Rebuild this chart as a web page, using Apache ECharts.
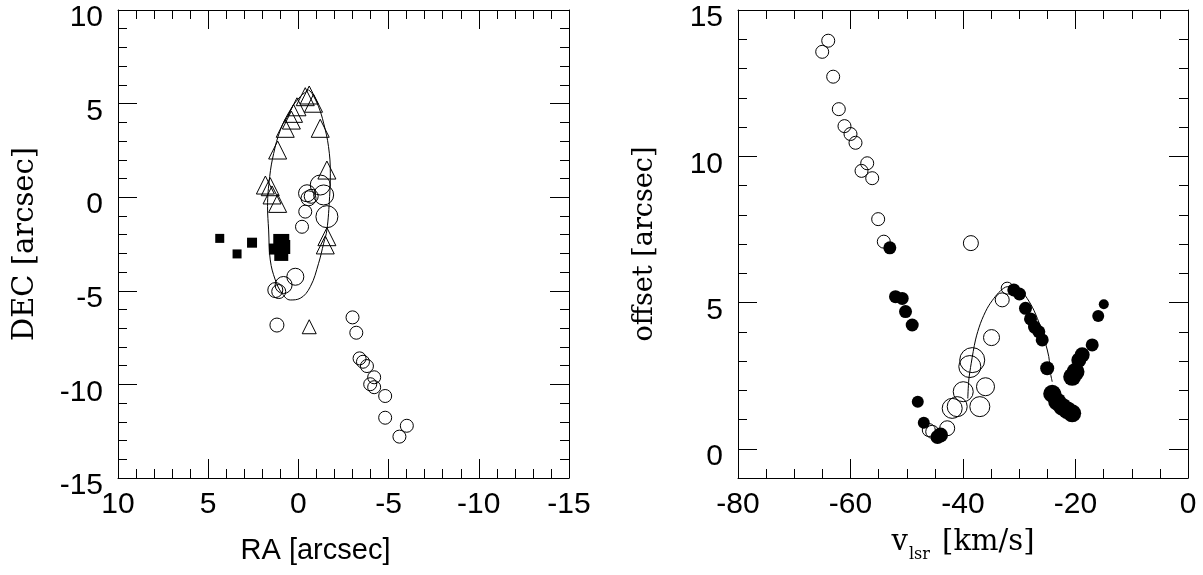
<!DOCTYPE html>
<html><head><meta charset="utf-8">
<script src="https://cdn.jsdelivr.net/npm/echarts@6/dist/echarts.min.js"></script>
<style>html,body{margin:0;padding:0;background:#fff}#c{width:1203px;height:575px}</style>
</head><body><div id="c"></div>
<script>
// ---------- tick values ----------
const raMajor = [10, 5, 0, -5, -10, -15];
const raMinor = [9,8,7,6,4,3,2,1,-1,-2,-3,-4,-6,-7,-8,-9,-11,-12,-13,-14];
const decMajor = [10, 5, 0, -5, -10, -15];
const decMinor = [9,8,7,6,4,3,2,1,-1,-2,-3,-4,-6,-7,-8,-9,-11,-12,-13,-14];
const vMajor = [-80, -60, -40, -20, 0];
const vMinor = [-75,-70,-65,-55,-50,-45,-35,-30,-25,-15,-10,-5];
const offMajor = [0, 5, 10, 15];
const offMinor = [-1,1,2,3,4,6,7,8,9,11,12,13,14];

// ---------- left panel data: [RA, DEC, relative flux] ----------
const leftEllipse = [[-0.57,5.73],[-0.10,5.37],[0.45,4.66],[1.00,3.59],[1.37,2.34],[1.59,1.10],[1.71,-0.51],[1.65,-1.75],[1.56,-3.35],[1.28,-4.42],[0.91,-5.13],[0.45,-5.49],[-0.10,-5.40],[-0.66,-4.78],[-1.12,-3.53],[-1.40,-2.46],[-1.58,-1.75],[-1.73,0.03],[-1.77,1.28],[-1.67,2.70],[-1.40,3.95],[-1.12,4.83],[-0.75,5.55],[-0.57,5.73]];
const leftTriangles = [[-0.38,5.37,6],[-0.60,5.46,6],[-0.84,5.02,6],[0.08,4.83,6],[0.27,4.48,6],[0.39,4.12,6],[0.73,3.68,6],[-1.21,3.68,6],[1.15,2.52,6],[-1.58,1.45,6],[1.83,0.65,6],[1.56,0.56,6],[1.46,0.12,6],[1.15,-0.33,6],[-1.58,-2.11,6],[-1.49,-2.55,6],[-0.60,-6.92,4]];
const leftCircles = [[-1.21,0.65,7],[-0.48,0.21,5.5],[-0.56,-0.06,4.5],[-0.71,0.05,4],[-1.40,0.12,7],[-0.38,-0.77,3.5],[-1.58,-1.04,8],[-0.20,-1.58,3.5],[0.17,-4.25,5.5],[0.82,-4.69,5.5],[1.28,-4.96,4.5],[1.09,-5.04,4],[1.19,-6.83,4],[-3.00,-6.42,3.5],[-3.21,-7.24,3.5],[-3.39,-8.61,3.5],[-3.58,-8.79,3.5],[-3.80,-9.02,3.5],[-4.20,-9.62,3.5],[-3.98,-9.99,3.5],[-4.20,-10.15,3.5],[-4.81,-10.62,3.5],[-4.81,-11.78,3.5],[-6.01,-12.21,3.5],[-5.60,-12.79,3.5]];
const leftSquares = [[4.36,-2.20,1.5],[3.40,-3.03,1.5],[2.57,-2.43,2],[0.95,-2.39,5],[1.33,-2.77,2.5],[0.95,-3.03,4],[0.84,-2.66,4]];

// ---------- right panel data: [v_lsr, offset, relative flux] ----------
const rightOpen = [[-63.96,13.95,3.5],[-65.03,13.57,3.5],[-63.08,12.72,3.5],[-62.08,11.61,3.5],[-61.07,11.03,3.5],[-60.0,10.76,3.5],[-59.11,10.46,3.5],[-57.03,9.76,3.5],[-58.04,9.50,3.5],[-56.14,9.25,3.5],[-55.08,7.85,3.5],[-54.08,7.08,3.5],[-38.6,7.03,4.5],[-46.08,0.64,3.5],[-45.47,0.58,3.5],[-42.81,0.70,4.5],[-41.92,1.38,7],[-41.03,1.44,7],[-39.96,1.95,7],[-38.79,2.81,8],[-38.36,3.03,9.5],[-36.0,2.12,6],[-37.01,1.44,7],[-34.93,3.80,5],[-33.03,5.09,4],[-32.14,5.49,3]];
const rightFilled = [[-53.01,6.87,3.5],[-52.0,5.20,3.5],[-50.81,5.14,3.5],[-50.22,4.69,3.5],[-49.03,4.23,3.5],[-48.04,1.61,3],[-46.97,0.89,3],[-44.0,0.47,4.5],[-44.53,0.40,4],[-30.97,5.43,3.5],[-29.96,5.29,3.5],[-28.89,4.80,3.5],[-28.0,4.44,3.5],[-27.29,4.16,3.5],[-26.52,4.00,3.5],[-25.92,3.72,3.5],[-25.03,2.75,4],[-24.14,1.88,6],[-23.25,1.61,6],[-22.36,1.44,6],[-21.47,1.32,6],[-20.59,1.21,6],[-23.9,1.84,5],[-14.97,4.94,2],[-15.96,4.54,3],[-17.03,3.55,3.5],[-18.81,3.21,4.5],[-19.41,3.03,4.5],[-20.0,2.63,6],[-20.59,2.46,6]];
const rightCurve = [[-39.15,1.72],[-38.97,2.35],[-38.54,2.92],[-37.78,3.72],[-36.89,4.29],[-35.70,4.80],[-34.52,5.14],[-33.33,5.40],[-32.14,5.54],[-30.97,5.54],[-29.78,5.43],[-28.59,5.14],[-27.41,4.74],[-26.22,4.17],[-25.33,3.60],[-24.75,3.15],[-24.44,2.58],[-24.14,2.29]];

// ---------- chart ----------
const chart = echarts.init(document.getElementById('c'), null, {renderer: 'canvas'});
const SANS = 'Liberation Sans, Arial, sans-serif';
const SERIF = 'DejaVu Serif, serif';
const BLACK = '#000';

function axisPair(grid, pos, min, max, inverse, major, minor, labels, labelCfg, nameCfg) {
  const base = {type: 'value', gridIndex: grid, position: pos, min: min, max: max, inverse: inverse,
    splitLine: {show: false}, minorTick: {show: false}, minorSplitLine: {show: false}};
  const maj = Object.assign({}, base, {
    axisLine: {show: true, onZero: false, lineStyle: {color: BLACK, width: 1}},
    axisTick: {show: true, inside: true, length: 19, customValues: major, lineStyle: {color: BLACK, width: 1}},
    axisLabel: Object.assign({show: labels, customValues: major, fontSize: 30, color: BLACK, fontFamily: SANS, margin: 12}, labelCfg || {})
  }, nameCfg || {});
  const mnr = Object.assign({}, base, {
    axisLine: {show: false, onZero: false},
    axisTick: {show: true, inside: true, length: 9, customValues: minor, lineStyle: {color: BLACK, width: 1}},
    axisLabel: {show: false}
  });
  return [maj, mnr];
}
const yLab = {margin: 15, formatter: v => '{a|' + v + '}',
  rich: {a: {fontSize: 30, color: BLACK, fontFamily: SANS, padding: [16, 0, 0, 0]}}};

const xAxes = [].concat(
  axisPair(0, 'bottom', -15, 10, true, raMajor, raMinor, true, null, {
    name: 'RA [arcsec]', nameLocation: 'middle', nameGap: 58,
    nameTextStyle: {fontSize: 29, color: BLACK, fontFamily: SANS, padding: [0, 56, 0, 0]}}),
  axisPair(0, 'top', -15, 10, true, raMajor, raMinor, false),
  axisPair(1, 'bottom', -80, 0, false, vMajor, vMinor, true, null, {
    name: '{v|v}{s|lsr}{v| [km/s]}', nameLocation: 'middle', nameGap: 50,
    nameTextStyle: {color: BLACK, rich: {
      v: {fontSize: 29, fontFamily: SERIF, color: BLACK, verticalAlign: 'bottom', padding: [0, 0, 6, 0]},
      s: {fontSize: 16, fontFamily: SERIF, color: BLACK, verticalAlign: 'bottom', padding: [0, 3, 0, 1]}
    }}}),
  axisPair(1, 'top', -80, 0, false, vMajor, vMinor, false)
);
const yAxes = [].concat(
  axisPair(0, 'left', -15, 10, false, decMajor, decMinor, true, yLab, {
    name: 'DEC [arcsec]', nameLocation: 'middle', nameGap: 78,
    nameTextStyle: {fontSize: 29, color: BLACK, fontFamily: SERIF}}),
  axisPair(0, 'right', -15, 10, false, decMajor, decMinor, false),
  axisPair(1, 'left', -1, 15, false, offMajor, offMinor, true, yLab, {
    name: 'offset [arcsec]', nameLocation: 'middle', nameGap: 80,
    nameTextStyle: {fontSize: 27, color: BLACK, fontFamily: SERIF}}),
  axisPair(1, 'right', -1, 15, false, offMajor, offMinor, false)
);

const sizeOf = d => 6 + 2 * d[2];
const openStyle = {color: 'rgba(0,0,0,0)', borderColor: BLACK, borderWidth: 1, opacity: 1};
const filledStyle = {color: BLACK, borderColor: BLACK, borderWidth: 0, opacity: 1};

chart.setOption({
  animation: false,
  backgroundColor: '#fff',
  grid: [
    {left: 118, top: 10, width: 451, height: 468, containLabel: false},
    {left: 738, top: 10, width: 450, height: 468, containLabel: false}
  ],
  xAxis: xAxes,
  yAxis: yAxes,
  series: [
    {type: 'line', xAxisIndex: 0, yAxisIndex: 0, data: leftEllipse, smooth: 0.4, showSymbol: false,
     symbol: 'none', lineStyle: {color: BLACK, width: 1}, z: 5},
    {type: 'scatter', xAxisIndex: 0, yAxisIndex: 0, data: leftTriangles, symbol: 'triangle',
     symbolSize: sizeOf, itemStyle: openStyle, z: 3},
    {type: 'scatter', xAxisIndex: 0, yAxisIndex: 0, data: leftCircles, symbol: 'circle',
     symbolSize: sizeOf, itemStyle: openStyle, z: 3},
    {type: 'scatter', xAxisIndex: 0, yAxisIndex: 0, data: leftSquares, symbol: 'rect',
     symbolSize: sizeOf, itemStyle: filledStyle, z: 4},
    {type: 'scatter', xAxisIndex: 4, yAxisIndex: 4, data: rightOpen, symbol: 'circle',
     symbolSize: sizeOf, itemStyle: openStyle, z: 3},
    {type: 'scatter', xAxisIndex: 4, yAxisIndex: 4, data: rightFilled, symbol: 'circle',
     symbolSize: sizeOf, itemStyle: filledStyle, z: 4},
    {type: 'line', xAxisIndex: 4, yAxisIndex: 4, data: rightCurve, smooth: 0.3, showSymbol: false,
     symbol: 'none', lineStyle: {color: BLACK, width: 1}, z: 5}
  ]
});
</script>
</body></html>
